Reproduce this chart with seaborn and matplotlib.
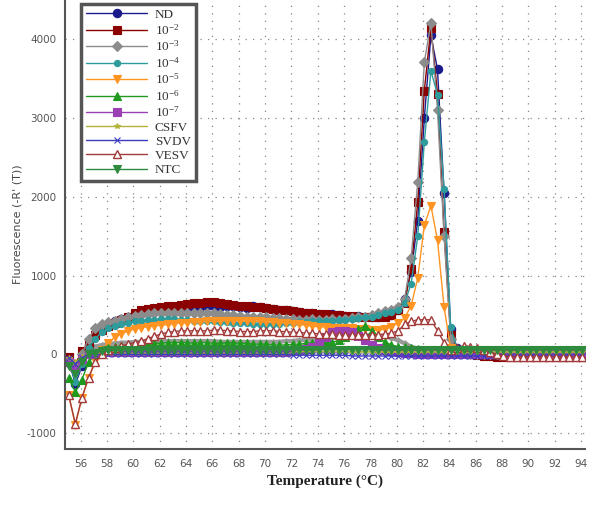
import numpy as np
import pandas as pd
import matplotlib
matplotlib.use("Agg")
import matplotlib.pyplot as plt
from matplotlib.ticker import MultipleLocator
import seaborn as sns

temps = [55.1, 55.6, 56.1, 56.6, 57.1, 57.6, 58.1, 58.6, 59.1, 59.6,
         60.1, 60.6, 61.1, 61.6, 62.1, 62.6, 63.1, 63.6, 64.1, 64.6,
         65.1, 65.6, 66.1, 66.6, 67.1, 67.6, 68.1, 68.6, 69.1, 69.6,
         70.1, 70.6, 71.1, 71.6, 72.1, 72.6, 73.1, 73.6, 74.1, 74.6,
         75.1, 75.6, 76.1, 76.6, 77.1, 77.6, 78.1, 78.6, 79.1, 79.6,
         80.1, 80.6, 81.1, 81.6, 82.1, 82.6, 83.1, 83.6, 84.1, 84.6,
         85.1, 85.6, 86.1, 86.6, 87.1, 87.6, 88.1, 88.6, 89.1, 89.6,
         90.1, 90.6, 91.1, 91.6, 92.1, 92.6, 93.1, 93.6, 94.1]

nd = [-60, -380, -150, 120, 250, 320, 380, 420, 450, 480,
      500, 520, 540, 560, 560, 570, 580, 590, 600, 590,
      600, 610, 620, 600, 610, 620, 600, 590, 610, 600,
      590, 580, 570, 560, 550, 540, 530, 520, 510, 500,
      510, 500, 490, 480, 490, 480, 470, 480, 490, 500,
      560, 700, 1050, 1700, 3000, 4050, 3620, 2050, 320, 80,
      40, 20, 10, 0, 0, -5, 0, -5, 0, 0,
      0, -5, 0, 0, -5, 0, 0, -5, 0]

d2 = [-30, -120, 40, 150, 250, 310, 360, 400, 440, 480,
      520, 560, 580, 590, 600, 610, 620, 630, 640, 650,
      650, 660, 660, 650, 640, 630, 620, 610, 600, 600,
      590, 580, 570, 560, 550, 540, 530, 520, 510, 510,
      500, 500, 490, 490, 480, 480, 470, 470, 480, 500,
      560, 650, 1090, 1930, 3350, 4150, 3310, 1550, 250, 60,
      20, 0, -10, -20, -20, -30, -30, -30, -30, -30,
      -30, -30, -30, -30, -30, -30, -30, -30, -30]

d3 = [-100, -200, 0, 200, 330, 380, 410, 430, 450, 470,
      490, 500, 510, 520, 520, 530, 530, 520, 530, 520,
      530, 520, 520, 510, 500, 500, 490, 480, 480, 470,
      470, 460, 460, 450, 450, 440, 440, 450, 440, 440,
      450, 440, 450, 460, 470, 480, 500, 520, 550, 570,
      600, 700, 1230, 2190, 3710, 4210, 3100, 1500, 200, 40,
      20, 10, 0, 0, 0, 0, 0, 0, 0, 0,
      0, 0, 0, 0, 0, 0, 0, 0, 0]

d4 = [-80, -350, -120, 80, 200, 280, 330, 360, 380, 400,
      420, 430, 440, 440, 450, 450, 450, 440, 440, 430,
      430, 420, 420, 410, 410, 400, 400, 400, 390, 390,
      390, 390, 390, 400, 400, 410, 410, 420, 420, 430,
      430, 440, 440, 450, 460, 470, 480, 500, 520, 540,
      570, 650, 900, 1500, 2700, 3600, 3300, 2100, 350, 60,
      20, 0, 0, 0, 0, 0, 0, 0, 0, 0,
      0, 0, 0, 0, 0, 0, 0, 0, 0]

d5 = [-520, -900, -550, -300, -80, 60, 150, 220, 260, 300,
      320, 340, 350, 360, 370, 380, 390, 400, 400, 410,
      410, 420, 420, 420, 430, 430, 430, 420, 420, 420,
      410, 410, 400, 400, 390, 380, 370, 360, 350, 350,
      340, 340, 330, 330, 320, 320, 310, 310, 320, 350,
      400, 460, 620, 970, 1640, 1890, 1450, 600, 80, 20,
      0, 0, 0, 0, 0, 0, 0, 0, 0, 0,
      0, 0, 0, 0, 0, 0, 0, 0, 0]

d6 = [-300, -480, -320, -100, 0, 50, 80, 100, 110, 120,
      120, 130, 130, 140, 140, 150, 150, 150, 150, 140,
      150, 150, 140, 140, 150, 150, 140, 140, 130, 130,
      130, 120, 120, 120, 130, 130, 140, 150, 160, 170,
      150, 180, 220, 270, 320, 360, 300, 220, 160, 120,
      100, 90, 80, 70, 60, 60, 50, 50, 50, 50,
      50, 50, 50, 50, 50, 50, 50, 50, 50, 50,
      50, 50, 50, 50, 50, 50, 50, 50, 50]

d7 = [-100, -160, -60, 0, 20, 30, 30, 30, 30, 30,
      30, 30, 30, 30, 30, 30, 30, 30, 30, 30,
      30, 30, 30, 30, 30, 30, 30, 30, 30, 30,
      30, 30, 30, 30, 40, 50, 70, 100, 150, 220,
      280, 300, 300, 280, 240, 180, 120, 80, 60, 40,
      30, 20, 20, 10, 10, 10, 0, 0, 0, 0,
      0, 0, 0, 0, 0, 0, 0, 0, 0, 0,
      0, 0, 0, 0, 0, 0, 0, 0, 0]

csfv = [-50, -100, -30, 0, 10, 20, 20, 20, 20, 20,
        20, 20, 20, 20, 20, 20, 20, 20, 20, 20,
        20, 20, 20, 20, 20, 20, 20, 20, 20, 20,
        20, 20, 20, 20, 20, 30, 30, 30, 30, 30,
        30, 30, 30, 30, 30, 30, 30, 30, 30, 30,
        30, 30, 30, 30, 30, 30, 30, 30, 30, 30,
        30, 30, 30, 30, 30, 30, 30, 30, 30, 30,
        30, 30, 30, 30, 30, 30, 30, 30, 30]

svdv = [-40, -120, -40, 0, 0, 0, 0, 0, 0, 0,
        0, 0, 0, 0, 0, 0, 0, 0, 0, 0,
        0, 0, 0, 0, 0, 0, 0, 0, 0, 0,
        0, 0, 0, 0, -10, -10, -10, -10, -10, -10,
        -10, -10, -10, -20, -20, -20, -20, -20, -20, -20,
        -20, -20, -20, -20, -20, -20, -20, -20, -20, -20,
        -20, -20, -20, -20, -20, -20, -20, -20, -20, -20,
        -20, -20, -20, -20, -20, -20, -20, -20, -20]

vesv = [-520, -880, -550, -300, -100, 0, 50, 80, 110, 130,
        150, 170, 200, 230, 260, 280, 290, 300, 300, 300,
        300, 300, 310, 310, 300, 300, 290, 290, 290, 300,
        300, 300, 290, 290, 280, 280, 270, 270, 260, 260,
        260, 250, 250, 250, 250, 250, 250, 250, 260, 270,
        300, 380, 420, 440, 440, 440, 300, 150, 50, 80,
        110, 100, 80, 60, 30, 0, -20, -30, -30, -30,
        -30, -30, -30, -30, -30, -30, -30, -30, -30]

ntc = [-150, -250, -100, 0, 20, 40, 50, 50, 50, 60,
       60, 60, 60, 60, 60, 60, 60, 60, 60, 60,
       60, 60, 60, 60, 60, 60, 60, 60, 60, 60,
       60, 60, 60, 60, 60, 60, 60, 60, 60, 60,
       60, 60, 60, 60, 60, 60, 60, 60, 60, 60,
       60, 60, 60, 60, 60, 60, 60, 60, 60, 60,
       60, 60, 60, 60, 60, 60, 60, 60, 60, 60,
       60, 60, 60, 60, 60, 60, 60, 60, 60]

grey_band = [-150, -250, -80, 50, 100, 120, 130, 140, 150, 150,
             160, 160, 160, 170, 170, 170, 170, 170, 170, 170,
             170, 170, 170, 160, 160, 160, 160, 160, 160, 160,
             160, 160, 160, 170, 170, 180, 180, 190, 200, 200,
             210, 220, 230, 240, 240, 240, 250, 240, 230, 210,
             180, 140, 100, 70, 50, 40, 50, 60, 50, 40,
             30, 30, 30, 30, 20, 20, 20, 20, 20, 20,
             20, 20, 20, 20, 20, 20, 20, 20, 20]

sns.set_style("white")
plt.rcParams["mathtext.fontset"] = "custom"
plt.rcParams["mathtext.rm"] = "Liberation Serif"
plt.rcParams["mathtext.it"] = "Liberation Serif:italic"
plt.rcParams["axes.unicode_minus"] = False

fig = plt.figure(figsize=(6.0, 5.09), dpi=100)
ax = fig.add_axes([0.108, 0.118, 0.867, 0.882])

series = [
    ("ND", nd, "#1a1a8c", "o", 6, True),
    (r"$\mathregular{10^{-2}}$", d2, "#8b0000", "s", 6, True),
    (r"$\mathregular{10^{-3}}$", d3, "#8c8c8c", "D", 5, True),
    (r"$\mathregular{10^{-4}}$", d4, "#2e9c9c", "o", 4.5, True),
    (r"$\mathregular{10^{-5}}$", d5, "#ff9422", "v", 6, True),
    (r"$\mathregular{10^{-6}}$", d6, "#1f9a1f", "^", 5.5, True),
    (r"$\mathregular{10^{-7}}$", d7, "#9b3fb5", "s", 6, True),
    ("CSFV", csfv, "#b3b33a", "*", 4, True),
    ("SVDV", svdv, "#3b3bc0", "x", 4.5, True),
    ("VESV", vesv, "#a33a3a", "^", 6, False),
    ("NTC", ntc, "#2e8b3e", "v", 6, True),
]

sns.lineplot(x=temps, y=grey_band, ax=ax, color="#999999", linewidth=3,
             marker="D", markersize=3.5, markeredgewidth=0, label="_nolegend_",
             zorder=2)

for name, vals, col, mk, ms, filled in series:
    kw = dict(color=col, linewidth=1.0, marker=mk, markersize=ms, label=name)
    if filled:
        kw.update(markerfacecolor=col, markeredgecolor=col, markeredgewidth=0.8)
    else:
        kw.update(markerfacecolor="white", markeredgecolor=col, markeredgewidth=1.0)
    sns.lineplot(x=temps, y=vals, ax=ax, **kw)

ax.set_xlim(54.8, 94.3)
ax.set_ylim(-1200, 4500)
ax.xaxis.set_major_locator(MultipleLocator(2))
ax.xaxis.set_minor_locator(MultipleLocator(1))
ax.yaxis.set_major_locator(MultipleLocator(1000))
ax.yaxis.set_minor_locator(MultipleLocator(500))
ax.tick_params(axis="both", which="both", direction="inout", colors="#444444",
               labelcolor="#555555", labelsize=7.5, width=1.0)
ax.tick_params(axis="both", which="major", length=5)
ax.tick_params(axis="both", which="minor", length=4)
ax.tick_params(axis="x", which="major", pad=5)
ax.set_xticks([56 + 2 * i for i in range(20)])

for s in ["top", "right"]:
    ax.spines[s].set_visible(False)
for s in ["left", "bottom"]:
    ax.spines[s].set_color("#555555")
    ax.spines[s].set_linewidth(1.5)

ax.grid(True, which="major", color="#888888", linestyle=(0, (1, 5)), linewidth=0.9)

ax.set_xlabel("Temperature (°C)", family="Liberation Serif", fontweight="bold",
              fontsize=11, color="#222222", labelpad=4)
ax.set_ylabel("Fluorescence (-R' (T))", family="DejaVu Sans", fontsize=8,
              color="#444444")
ax.yaxis.set_label_coords(-0.082, 0.5)

leg = ax.legend(loc="upper left", bbox_to_anchor=(0.031, 0.992), frameon=True,
                fancybox=False, prop={"family": "Liberation Serif", "size": 9.5},
                handlelength=4.6, labelspacing=0.14, borderpad=0.4,
                handletextpad=0.6, borderaxespad=0)
leg.get_frame().set_edgecolor("#555555")
leg.get_frame().set_linewidth(2.5)
leg.get_frame().set_alpha(1)
for t in leg.get_texts():
    t.set_color("#333333")

fig.savefig("out.png", dpi=100)
